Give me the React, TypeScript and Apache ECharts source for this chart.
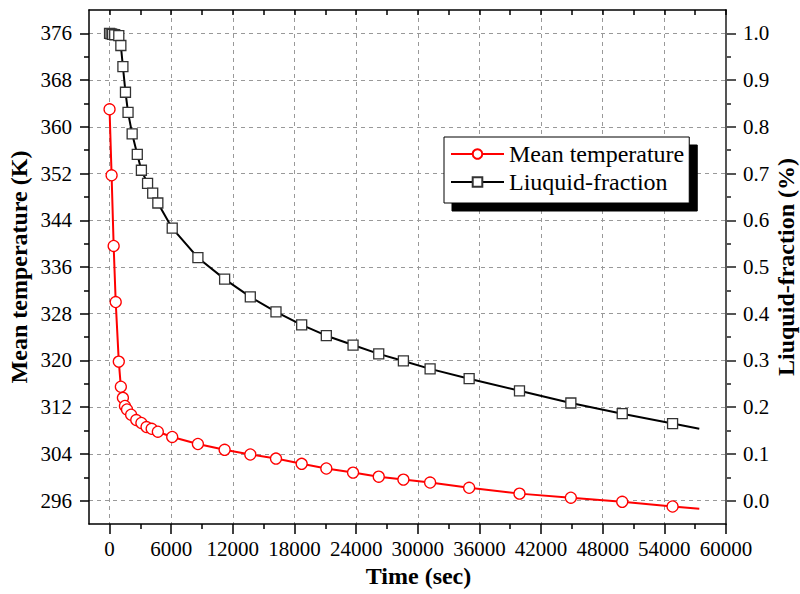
import React, { useEffect, useRef } from "react";
import * as echarts from "echarts";

// ---- data ----
const timeTemp = [0, 200, 400, 600, 900, 1100, 1300, 1500, 1700, 2100, 2600, 3100, 3600, 4100, 4700, 6100, 8600, 11200, 13700, 16200, 18700, 21100, 23700, 26200, 28600, 31200, 35000, 39900, 44900, 49900, 54800, 57400];
const meanTemp = [363.0, 351.7, 339.6, 330.0, 319.8, 315.5, 313.6, 312.2, 311.6, 310.7, 309.8, 309.3, 308.6, 308.3, 307.8, 306.9, 305.7, 304.7, 303.9, 303.2, 302.3, 301.5, 300.8, 300.1, 299.6, 299.1, 298.2, 297.2, 296.5, 295.8, 295.0, 294.6];

const timeFrac = [0, 150, 300, 500, 900, 1100, 1300, 1550, 1800, 2200, 2700, 3100, 3700, 4200, 4700, 6100, 8600, 11200, 13700, 16200, 18700, 21100, 23700, 26200, 28600, 31200, 35000, 39900, 44900, 49900, 54800, 57400];
const liquidFraction = [1.0, 0.999, 0.998, 0.997, 0.995, 0.974, 0.929, 0.874, 0.831, 0.785, 0.741, 0.707, 0.679, 0.658, 0.637, 0.583, 0.52, 0.474, 0.436, 0.404, 0.376, 0.353, 0.333, 0.314, 0.299, 0.282, 0.261, 0.235, 0.209, 0.186, 0.165, 0.154];

const xMajorTicks = [0, 6000, 12000, 18000, 24000, 30000, 36000, 42000, 48000, 54000, 60000];
const xMinorTicks = [3000, 9000, 15000, 21000, 27000, 33000, 39000, 45000, 51000, 57000];
const xAllTicks = [0, 3000, 6000, 9000, 12000, 15000, 18000, 21000, 24000, 27000, 30000, 33000, 36000, 39000, 42000, 45000, 48000, 51000, 54000, 57000, 60000];
const tempMajorTicks = [296, 304, 312, 320, 328, 336, 344, 352, 360, 368, 376];
const tempMinorTicks = [300, 308, 316, 324, 332, 340, 348, 356, 364, 372];
const fracMajorTicks = [0, 0.1, 0.2, 0.3, 0.4, 0.5, 0.6, 0.7, 0.8, 0.9, 1.0];
const fracMinorTicks = [0.05, 0.15, 0.25, 0.35, 0.45, 0.55, 0.65, 0.75, 0.85, 0.95];

const FONT = "Liberation Serif";

export default function App() {
  const ref = useRef<HTMLDivElement>(null);

  useEffect(() => {
    if (!ref.current) return;
    const chart = echarts.init(ref.current, undefined, { renderer: "svg" });

    const X_MIN = -2000, X_MAX = 60000;
    const T_MIN = 292, T_MAX = 380;
    const F_MIN = -0.05, F_MAX = 1.05;

    const gridLine = { show: true, lineStyle: { color: "#999", type: [4, 4] as any, width: 1 } };
    const hidden = { show: false };

    const lastT = timeTemp.length - 1;
    const lastF = timeFrac.length - 1;

    const option: any = {
      animation: false,
      backgroundColor: "#fff",
      textStyle: { fontFamily: FONT },
      grid: { left: 89, top: 10, right: 74, bottom: 70, containLabel: false, outerBoundsMode: "none" },
      legend: {
        left: 444,
        top: 137,
        orient: "vertical",
        backgroundColor: "#fff",
        borderColor: "#000",
        borderWidth: 1,
        padding: [5, 5, 9, 6],
        itemGap: 4,
        itemWidth: 53,
        itemHeight: 12,
        shadowColor: "#000",
        shadowBlur: 0,
        shadowOffsetX: 8,
        shadowOffsetY: 8,
        textStyle: { fontFamily: FONT, fontSize: 24, color: "#000" },
        data: ["Mean temperature", "Liuquid-fraction"],
      },
      xAxis: [
        {
          type: "value",
          position: "bottom",
          min: X_MIN,
          max: X_MAX,
          name: "Time (sec)",
          nameLocation: "middle",
          nameGap: 40,
          nameMoveOverlap: false,
          nameTextStyle: { fontFamily: FONT, fontSize: 24, fontWeight: "bold", color: "#000", padding: [0, 0, 0, 22] },
          axisLine: { show: true, onZero: false, lineStyle: { color: "#000", width: 1.5 } },
          axisTick: { show: true, inside: false, length: 10, customValues: xMajorTicks, lineStyle: { color: "#000", width: 1.5 } },
          axisLabel: {
            show: true,
            customValues: xMajorTicks,
            margin: 14,
            fontFamily: FONT,
            fontSize: 21,
            color: "#000",
            formatter: (v: number) => String(v),
          },
          splitLine: gridLine,
        },
        {
          type: "value",
          position: "bottom",
          min: X_MIN,
          max: X_MAX,
          axisLine: { show: false, onZero: false },
          axisTick: { show: true, inside: false, length: 5, customValues: xMinorTicks, lineStyle: { color: "#000", width: 1.5 } },
          axisLabel: hidden,
          splitLine: hidden,
        },
        {
          type: "value",
          position: "top",
          min: X_MIN,
          max: X_MAX,
          axisLine: { show: true, onZero: false, lineStyle: { color: "#000", width: 1.5 } },
          axisTick: { show: true, inside: true, length: 5, customValues: xAllTicks, lineStyle: { color: "#000", width: 1.5 } },
          axisLabel: hidden,
          splitLine: hidden,
        },
      ],
      yAxis: [
        {
          type: "value",
          position: "left",
          min: T_MIN,
          max: T_MAX,
          name: "Mean temperature (K)",
          nameLocation: "middle",
          nameRotate: 90,
          nameGap: 58,
          nameMoveOverlap: false,
          nameTextStyle: { fontFamily: FONT, fontSize: 24, fontWeight: "bold", color: "#000" },
          axisLine: { show: true, onZero: false, lineStyle: { color: "#000", width: 1.5 } },
          axisTick: { show: true, inside: false, length: 9, customValues: tempMajorTicks, lineStyle: { color: "#000", width: 1.5 } },
          axisLabel: { show: true, customValues: tempMajorTicks, margin: 17, fontFamily: FONT, fontSize: 21, color: "#000" },
          splitLine: gridLine,
        },
        {
          type: "value",
          position: "right",
          min: F_MIN,
          max: F_MAX,
          name: "Liuquid-fraction (%)",
          nameLocation: "middle",
          nameRotate: 90,
          nameGap: 48,
          nameMoveOverlap: false,
          nameTextStyle: { fontFamily: FONT, fontSize: 24, fontWeight: "bold", color: "#000" },
          axisLine: { show: true, onZero: false, lineStyle: { color: "#555", width: 2 } },
          axisTick: { show: true, inside: false, length: 10, customValues: fracMajorTicks, lineStyle: { color: "#555", width: 2 } },
          axisLabel: {
            show: true,
            customValues: fracMajorTicks,
            margin: 17,
            fontFamily: FONT,
            fontSize: 21,
            color: "#000",
            formatter: (v: number) => v.toFixed(1),
          },
          splitLine: hidden,
        },
        {
          type: "value",
          position: "left",
          min: T_MIN,
          max: T_MAX,
          axisLine: { show: false, onZero: false },
          axisTick: { show: true, inside: false, length: 5, customValues: tempMinorTicks, lineStyle: { color: "#000", width: 1.5 } },
          axisLabel: hidden,
          splitLine: hidden,
        },
        {
          type: "value",
          position: "right",
          min: F_MIN,
          max: F_MAX,
          axisLine: { show: false, onZero: false },
          axisTick: { show: true, inside: false, length: 5, customValues: fracMinorTicks, lineStyle: { color: "#555", width: 2 } },
          axisLabel: hidden,
          splitLine: hidden,
        },
      ],
      series: [
        {
          type: "line",
          name: "Mean temperature",
          xAxisIndex: 0,
          yAxisIndex: 0,
          z: 3,
          symbol: "circle",
          symbolSize: 11,
          showAllSymbol: true,
          lineStyle: { color: "#ff0000", width: 2 },
          itemStyle: { color: "#ffffff", borderColor: "#ff0000", borderWidth: 1.3 },
          data: timeTemp.map((t, i) =>
            i === lastT ? { value: [t, meanTemp[i]], symbol: "none" } : [t, meanTemp[i]]
          ),
        },
        {
          type: "line",
          name: "Liuquid-fraction",
          xAxisIndex: 0,
          yAxisIndex: 1,
          z: 3,
          symbol: "rect",
          symbolSize: 10,
          showAllSymbol: true,
          lineStyle: { color: "#000000", width: 2 },
          itemStyle: { color: "#ffffff", borderColor: "#333333", borderWidth: 1.3 },
          data: timeFrac.map((t, i) =>
            i === lastF ? { value: [t, liquidFraction[i]], symbol: "none" } : [t, liquidFraction[i]]
          ),
        },
      ],
    };

    chart.setOption(option);
    return () => chart.dispose();
  }, []);

  return (
    <div
      ref={ref}
      style={{ position: "absolute", left: 0, top: 0, width: 800, height: 594 }}
    />
  );
}
